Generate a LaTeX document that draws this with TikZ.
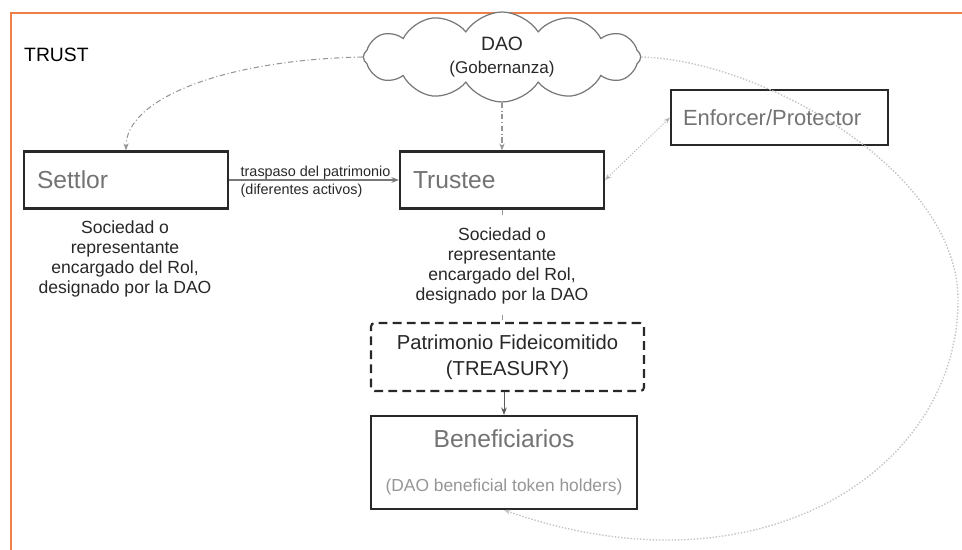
\documentclass[tikz,border=0pt]{standalone}
\usepackage{fontspec}
\setmainfont{Liberation Sans}
\usepackage{tikz}
\usetikzlibrary{shapes.symbols, arrows.meta, positioning, calc}
\definecolor{cFrame}{RGB}{237,128,72}
\definecolor{cBorder}{RGB}{40,40,40}
\definecolor{cTitle}{RGB}{115,115,115}
\definecolor{cNote}{RGB}{40,40,40}
\definecolor{cLink}{RGB}{150,150,150}
\definecolor{cCloud}{RGB}{120,120,120}
\tikzset{
	rolebox/.style   ={rectangle, draw=cBorder, line width=1.2pt, fill=white, text=cTitle, align=left, inner xsep=0.26cm, font=\fontsize{14}{16}\selectfont},
	treasurybox/.style={rectangle, draw=cBorder, line width=1.2pt, dashed, dash pattern=on 5pt off 3pt, rounded corners=2pt, fill=white, text=cNote, align=center, font=\fontsize{11.5}{15}\selectfont},
	govcloud/.style  ={cloud, cloud puffs=12, cloud puff arc=115, aspect=3.3, draw=cCloud, line width=0.7pt, fill=white, text=cNote, align=center, inner sep=0pt},
	rolenote/.style  ={align=center, text=cNote, fill=white, inner xsep=1pt, inner ysep=6pt, font=\fontsize{10}{11.3}\selectfont},
	% connectors
	govlink/.style   ={draw=cLink, line width=0.6pt, dash pattern=on 3pt off 1.5pt on 0.6pt off 1.5pt, -{Stealth[length=1.4mm]}},
	transfer/.style  ={draw=cLink!80!black, line width=0.6pt, -{Stealth[length=1.5mm]}},
	protlink/.style  ={draw=cLink!70, line width=0.6pt, densely dotted, {Stealth[length=1.3mm]}-{Stealth[length=1.3mm]}},
	benefloop/.style ={draw=cLink!55, line width=0.8pt, densely dotted, -{Stealth[length=1.3mm]}},
}
\begin{document}
\begin{tikzpicture}[x=0.02cm, y=-0.02cm]
	\useasboundingbox (0,0) rectangle (962,550);
	% trust frame
	\draw[cFrame, line width=1.1pt] (11,550) |- (962,13);
	\node[anchor=west, font=\fontsize{11}{13}\selectfont] (trust) at (18,55) {TRUST};

	\node[govcloud, minimum width=5.55cm, minimum height=1.8cm] (dao) at (502,57) {{\fontsize{11}{13}\selectfont DAO}\\[1pt]{\fontsize{9.7}{12}\selectfont (Gobernanza)}};
	\node[rolebox, text width=3.56cm, minimum height=1.14cm] (settlor) at (126,180) {Settlor};
	\node[rolebox, text width=3.56cm, minimum height=1.14cm] (trustee) at (502,180) {Trustee};
	\node[rolebox, text width=3.86cm, inner xsep=0.24cm, minimum height=1.1cm, font=\fontsize{12.5}{15}\selectfont] (enforcer) at (779.5,117.5) {Enforcer/Protector\\[2pt]};
	\node[treasurybox, minimum width=5.46cm, minimum height=1.36cm] (treasury) at (507.5,357) {Patrimonio Fideicomitido\\(TREASURY)};
	\node[rolebox, align=center, minimum width=5.32cm, minimum height=1.86cm] (benef) at (504,462.5) {Beneficiarios\\[9pt]{\color{cTitle!75}\fontsize{9.9}{12}\selectfont (DAO beneficial token holders)}};

	\draw[govlink] (dao.west) .. controls (220,60) and (126,100) .. (settlor.north);
	\draw[govlink] (dao.south) -- (trustee.north);
	\draw[transfer] (settlor) -- node[pos=0, anchor=west, xshift=3pt, yshift=-1pt, align=left, text=cNote, font=\fontsize{8.2}{10.5}\selectfont] (transferlbl) {traspaso del patrimonio\\(diferentes activos)} (trustee);
	\draw[protlink] (trustee.east) -- (enforcer.west);
	\draw[benefloop] (dao.east) .. controls (760,60) and (958,170) .. (958,300) .. controls (958,470) and (760,600) .. (benef.south);
	\draw[cLink, line width=0.5pt, densely dashed] (trustee.south) -- (trustee.south |- treasury.north);
	\draw[transfer, draw=cLink!60!black, line width=0.5pt] (treasury.south -| benef.north) -- (benef.north);

	\node[rolenote] (settlornote) at (125,259) {Sociedad o\\representante\\encargado del Rol,\\designado por la DAO};
	\node[rolenote] (trusteenote) at (502,266) {Sociedad o\\representante\\encargado del Rol,\\designado por la DAO};
\end{tikzpicture}
\end{document}
